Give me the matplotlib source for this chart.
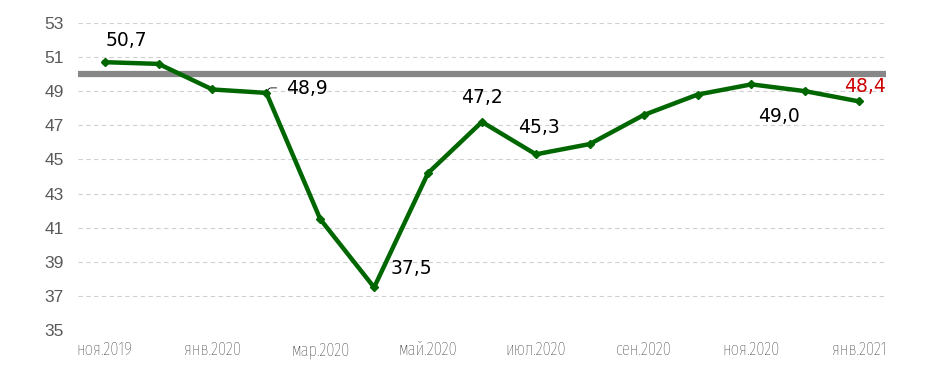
import numpy as np
import matplotlib.pyplot as plt

months = ['ноя.2019', 'дек.2019', 'янв.2020', 'фев.2020', 'мар.2020', 'апр.2020',
          'май.2020', 'июн.2020', 'июл.2020', 'авг.2020', 'сен.2020', 'окт.2020',
          'ноя.2020', 'дек.2020', 'янв.2021']
pmi = [50.7, 50.6, 49.1, 48.9, 41.5, 37.5, 44.2, 47.2, 45.3, 45.9, 47.6, 48.8,
       49.4, 49.0, 48.4]
threshold = 50.0

# points that carry a value label
label_idx = [0, 3, 5, 7, 8, 13, 14]

plt.rcParams['font.family'] = ['DejaVu Sans']

fig = plt.figure(figsize=(9.25, 3.7), dpi=100)
ax = fig.add_axes([0.084, 0.108, 0.874, 0.83])

x = np.arange(len(months))
ax.axhline(threshold, color='#878787', linewidth=4.5, zorder=2)
ax.plot(x, pmi, color='#006600', linewidth=3.2, marker='D', markersize=4,
        zorder=3, solid_joinstyle='round')

ax.set_xlim(-0.5, len(months) - 0.5)
ax.set_ylim(35, 53)
ax.set_yticks(np.arange(35, 54, 2))
ax.set_xticks(x[::2])
ax.set_xticklabels(months[::2])

for lab in ax.get_xticklabels():
    lab.set_fontfamily(['Fira Sans Extra Condensed', 'PT Sans Narrow', 'Liberation Sans'])
    lab.set_fontweight('light')
    lab.set_fontsize(13)
    lab.set_color('#2a2a2a')
for lab in ax.get_yticklabels():
    lab.set_fontfamily(['Liberation Sans'])
    lab.set_fontsize(12.5)
    lab.set_color('#595959')

ax.tick_params(length=0)
ax.tick_params(axis='x', pad=8)
ax.tick_params(axis='y', pad=10)
for s in ax.spines.values():
    s.set_visible(False)
ax.grid(axis='y', linestyle=(0, (4, 3)), color='#d0d0d0', linewidth=0.8, zorder=0)

offsets = {0: (22, 22, 'center'), 3: (20, 4, 'left'), 5: (16, 19, 'left'),
           7: (0, 24, 'center'), 8: (3, 27, 'center'), 13: (-26, -25, 'center'),
           14: (6, 15, 'center')}
for i in label_idx:
    dx, dy, ha = offsets[i]
    col = '#cc0000' if i == len(pmi) - 1 else 'black'
    txt = f'{pmi[i]:.1f}'.replace('.', ',')
    ax.annotate(txt, (x[i], pmi[i]), xytext=(dx, dy), textcoords='offset pixels',
                ha=ha, va='center', fontsize=13.5, color=col, zorder=4)

# small leader line for the Feb label
ax.annotate('', (x[3], pmi[3]), xytext=(13, 5), textcoords='offset pixels',
            arrowprops=dict(arrowstyle='-', color='black', lw=0.6,
                            connectionstyle='angle,angleA=0,angleB=60,rad=2'))

fig.savefig('out.png', dpi=100)
